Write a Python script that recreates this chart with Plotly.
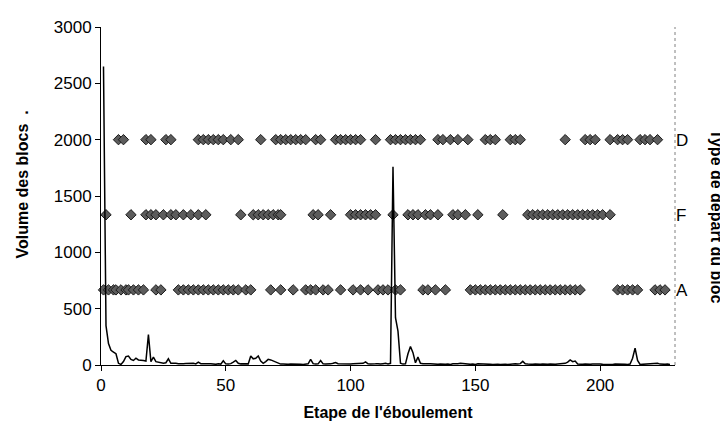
import plotly.graph_objects as go

# ---- data ----
steps = list(range(1, 229))
volume = [
    2650, 350, 190, 130, 115, 100, 15, 5, 30, 75,
    80, 50, 40, 60, 45, 45, 40, 35, 270, 30,
    70, 30, 25, 20, 15, 20, 55, 15, 18, 15,
    12, 15, 12, 14, 15, 12, 15, 10, 25, 12,
    10, 8, 10, 12, 8, 6, 10, 8, 38, 10,
    8, 12, 25, 40, 15, 10, 12, 8, 10, 80,
    55, 60, 80, 35, 15, 30, 50, 45, 35, 25,
    12, 8, 8, 5, 6, 8, 6, 5, 8, 6,
    5, 8, 10, 50, 12, 8, 10, 40, 10, 8,
    6, 10, 15, 22, 12, 10, 8, 10, 6, 8,
    10, 12, 8, 10, 15, 28, 10, 8, 6, 10,
    12, 8, 12, 15, 10, 15, 1760, 420, 300, 15,
    8, 10, 100, 165, 110, 20, 70, 15, 12, 8,
    10, 12, 8, 5, 6, 8, 5, 6, 8, 5,
    10, 8, 12, 15, 12, 8, 5, 6, 8, 5,
    10, 8, 6, 5, 8, 6, 5, 8, 6, 5,
    8, 6, 5, 8, 6, 10, 8, 12, 32, 10,
    8, 5, 6, 8, 5, 6, 8, 5, 6, 8,
    5, 6, 8, 10, 8, 15, 25, 45, 30, 35,
    8, 5, 6, 8, 5, 6, 8, 10, 12, 8,
    6, 5, 8, 6, 5, 8, 6, 5, 8, 6,
    5, 8, 60, 150, 40, 5, 6, 8, 5, 6,
    8, 10, 15, 8, 5, 6, 8, 5,
]

steps_D = [7, 9, 18, 20, 26, 28, 39, 41, 43, 45, 47, 49, 52, 55, 64,
           70, 72, 74, 76, 78, 80, 82, 86, 88, 94, 96, 98, 100, 102, 104,
           110, 116, 118, 120, 122, 124, 126, 128, 135, 137, 140, 143, 147,
           154, 156, 158, 164, 166, 168, 186, 194, 196, 198,
           204, 207, 209, 211, 216, 218, 220, 223]
steps_F = [2, 12, 18, 20, 22, 25, 28, 30, 33, 36, 39, 42, 56,
           61, 63, 65, 67, 69, 71, 72, 85, 87, 92, 100, 102, 104, 106, 108, 110,
           117, 123, 125, 127, 130, 132, 135, 141, 143, 146, 151, 161,
           171, 173, 175, 177, 179, 181, 183, 185, 187, 189, 191, 193,
           195, 197, 199, 201, 204]
steps_A = [1, 3, 5, 6, 8, 10, 11, 13, 15, 17, 22, 24,
           31, 33, 35, 37, 39, 41, 43, 45, 47, 49, 51, 53, 55, 58, 60,
           68, 72, 77, 82, 84, 86, 89, 91, 96, 101, 104, 107,
           111, 113, 115, 118, 120, 129, 131, 134, 138,
           148, 150, 152, 154, 156, 158, 160, 162, 164, 166, 168, 170, 172,
           174, 176, 178, 180, 182, 184, 186, 188, 190, 192,
           207, 209, 211, 213, 215, 222, 224, 226]

categories = ["A", "F", "D"]
cat_index = {"A": 1, "F": 2, "D": 3}

FONT = "Liberation Sans, Arial, sans-serif"

fig = go.Figure()

marker_style = dict(symbol="diamond", size=8, color="#5c5c5c",
                    line=dict(color="#1a1a1a", width=1))
for cat, xs in (("D", steps_D), ("F", steps_F), ("A", steps_A)):
    fig.add_trace(go.Scatter(
        x=xs, y=[cat_index[cat]] * len(xs), mode="markers",
        marker=marker_style, yaxis="y", cliponaxis=False, showlegend=False,
    ))

fig.add_trace(go.Scatter(
    x=steps, y=volume, mode="lines", line=dict(color="black", width=1.5),
    yaxis="y2", showlegend=False,
))

# page body has an 8px margin: figure is placed at (8, 8) in the page
fig.update_layout(
    width=720, height=429, autosize=False,
    margin=dict(l=93, r=53, t=10, b=72),
    paper_bgcolor="white", plot_bgcolor="white",
    font=dict(family=FONT, size=17, color="black"),
    xaxis=dict(
        range=[0, 230], tick0=0, dtick=50, showgrid=False, zeroline=False,
        showline=True, linecolor="black", linewidth=1,
        ticks="outside", ticklen=5, tickcolor="black",
        tickfont=dict(size=17),
        title=dict(text="<b>Etape de l'éboulement</b>", font=dict(size=16), standoff=12),
    ),
    yaxis=dict(
        side="right", range=[0, 4.5], tickvals=[1, 2, 3], ticktext=categories,
        showgrid=False, zeroline=False, showline=False,
        ticks="", tickfont=dict(size=17),
    ),
    yaxis2=dict(
        overlaying="y", side="left", range=[0, 3000], tick0=0, dtick=500,
        showgrid=False, zeroline=False, showline=True, linecolor="black",
        linewidth=1, ticks="outside", ticklen=5, tickcolor="black",
        tickfont=dict(size=17),
    ),
    shapes=[
        dict(type="line", xref="paper", yref="paper", x0=1, x1=1, y0=0, y1=1,
             line=dict(color="#808080", width=1, dash="dot")),
    ],
    annotations=[
        dict(text="<b>Volume des blocs  .</b>", xref="paper", yref="paper",
             x=-0.137, y=0.535, textangle=-90, showarrow=False,
             font=dict(size=16), xanchor="center", yanchor="middle"),
        dict(text="<b>Type de départ du bloc</b>", xref="paper", yref="paper",
             x=1.073, y=0.44, textangle=90, showarrow=False,
             font=dict(size=16), xanchor="center", yanchor="middle"),
    ],
)

fig.write_html("out.html")
